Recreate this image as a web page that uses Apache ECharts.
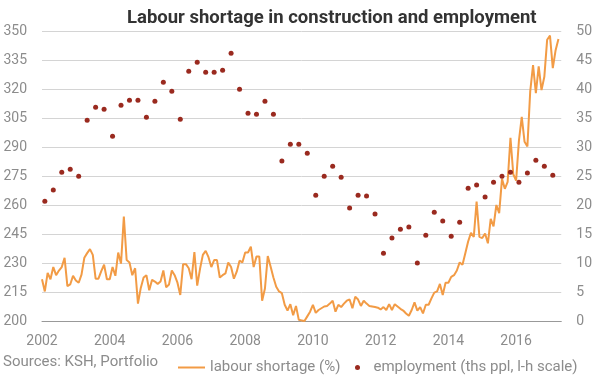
<!DOCTYPE html>
<html>
<head>
<meta charset="utf-8">
<script src="https://cdn.jsdelivr.net/npm/echarts@6/dist/echarts.min.js"></script>
<style>
  html, body { margin: 0; padding: 0; background: #fff; }
  #chart { width: 595px; height: 376px; }
</style>
</head>
<body>
<div id="chart"></div>
<script>
// labour shortage in construction, %, monthly from Jan 2002 (r-h scale)
var shortage = [
  7.2, 5.1, 8.3, 7.2, 9.3, 7.9, 8.7, 9.3, 10.9, 6.0, 6.3, 7.8,
  7.0, 6.6, 8.0, 10.9, 11.7, 12.4, 11.4, 7.3, 7.3, 8.6, 9.7, 7.2,
  7.2, 9.3, 7.8, 11.8, 9.9, 18.0, 10.5, 10.1, 7.9, 9.1, 3.0, 5.7,
  7.5, 7.9, 5.3, 7.1, 6.8, 6.4, 6.8, 8.7, 5.8, 6.3, 8.7, 7.9,
  6.6, 4.5, 9.8, 9.8, 9.1, 7.2, 11.9, 6.1, 9.0, 11.4, 12.1, 11.0,
  9.3, 10.5, 10.5, 7.5, 7.9, 8.2, 10.1, 9.3, 7.3, 8.5, 10.4, 10.1,
  11.8, 11.8, 12.8, 9.3, 11.1, 11.1, 3.5, 5.6, 11.2, 9.4, 7.5, 5.9,
  5.1, 4.8, 2.8, 1.8, 2.9, 1.0, 2.6, 0.2, 0.1, 0.0, 0.8, 1.6,
  2.8, 1.4, 1.9, 2.2, 2.5, 2.6, 3.0, 3.5, 1.6, 2.8, 2.4, 3.0,
  3.5, 3.7, 2.2, 4.2, 3.7, 2.6, 3.5, 3.0, 2.6, 2.5, 2.4, 2.3,
  2.0, 2.4, 1.9, 2.9, 1.9, 2.9, 2.5, 2.1, 1.8, 1.3, 0.9, 1.9,
  3.2, 1.8, 2.4, 1.3, 2.8, 2.8, 3.9, 4.9, 5.1, 6.4, 4.5, 6.6,
  6.6, 7.6, 7.9, 8.7, 10.1, 9.7, 11.7, 13.7, 15.2, 14.5, 20.6, 14.5,
  14.3, 15.1, 13.4, 17.6, 16.3, 20.0, 18.6, 24.5, 22.8, 24.0, 31.6, 25.3,
  24.2, 31.1, 35.2, 30.9, 30.1, 39.6, 44.1, 39.3, 43.9, 39.8, 42.1, 48.5,
  49.2, 43.6, 46.7, 48.6
];

// employment in construction, ths people, quarterly from 2002 Q1 (l-h scale)
var employment = [
  262.0, 267.7, 277.0, 278.5, 274.9, 303.8, 310.6, 309.5, 295.6, 311.6,
  314.2, 314.2, 305.4, 313.7, 323.5, 318.8, 304.4, 329.2, 333.8, 328.6,
  328.6, 329.7, 338.5, 319.9, 307.5, 306.9, 313.7, 306.9, 282.7, 291.4,
  291.4, 286.8, 265.1, 274.9, 280.1, 274.4, 258.4, 265.1, 264.6, 255.3,
  235.1, 242.9, 247.5, 248.6, 230.0, 244.4, 256.3, 251.7, 243.9, 251.1,
  268.7, 270.3, 264.1, 271.8, 274.9, 277.0, 271.8, 276.5, 283.2, 280.1, 275.4
];

var startYear = 2002;
var yearTicks = [2002, 2004, 2006, 2008, 2010, 2012, 2014, 2016];

var lineName = 'labour shortage (%)';
var dotName = 'employment (ths ppl, l-h scale)';

// x as decimal year: monthly points at month start, quarterly at mid-quarter month
var shortageData = shortage.map(function (v, i) {
  return [startYear + i / 12, v];
});
var employmentData = employment.map(function (v, i) {
  return [startYear + (3 * i + 1) / 12, v];
});

var labelColor = '#8c8c8c';
var font = 'Roboto, "Noto Sans", sans-serif';

var chart = echarts.init(document.getElementById('chart'), null, { renderer: 'canvas' });

var option = {
  animation: false,
  backgroundColor: '#fff',
  title: {
    text: 'Labour shortage in construction and employment',
    left: 122,
    top: 4,
    textStyle: { fontFamily: font, fontSize: 18.5, fontWeight: 'bold', color: '#333' }
  },
  grid: { left: 42, right: 33, top: 31, bottom: 55 },
  legend: [
    {
      data: [{ name: lineName, icon: 'rect' }],
      left: 173,
      top: 355,
      itemWidth: 27,
      itemHeight: 2,
      textStyle: { fontFamily: font, fontSize: 15, color: labelColor }
    },
    {
      data: [{ name: dotName, icon: 'circle' }],
      left: 350,
      top: 355,
      itemWidth: 22,
      itemHeight: 5,
      textStyle: { fontFamily: font, fontSize: 15, color: labelColor }
    }
  ],
  graphic: [
    {
      type: 'text',
      left: 3,
      top: 355,
      style: { text: 'Sources: KSH, Portfolio', font: '15px ' + font, fill: labelColor }
    }
  ],
  xAxis: {
    type: 'value',
    min: startYear,
    max: startYear + shortage.length / 12,
    interval: 2,
    axisLine: { show: true, lineStyle: { color: '#999', width: 1 } },
    axisTick: { show: false },
    splitLine: { show: false },
    axisLabel: {
      margin: 13,
      fontFamily: font,
      fontSize: 14,
      color: labelColor,
      showMaxLabel: false,
      formatter: function (v) {
        return yearTicks.indexOf(v) >= 0 ? String(v) : '';
      }
    }
  },
  yAxis: [
    {
      type: 'value',
      min: 200,
      max: 350,
      interval: 15,
      axisLine: { show: false },
      axisTick: { show: false },
      splitLine: { lineStyle: { color: '#d4d4d4', width: 1 } },
      axisLabel: { margin: 15, fontFamily: font, fontSize: 14, color: labelColor }
    },
    {
      type: 'value',
      min: 0,
      max: 50,
      interval: 5,
      position: 'right',
      axisLine: { show: false },
      axisTick: { show: false },
      splitLine: { show: false },
      axisLabel: { margin: 15, fontFamily: font, fontSize: 14, color: labelColor }
    }
  ],
  series: [
    {
      name: lineName,
      type: 'line',
      yAxisIndex: 1,
      data: shortageData,
      showSymbol: false,
      symbol: 'none',
      lineStyle: { color: '#f29b45', width: 2 },
      itemStyle: { color: '#f29b45' },
      z: 2
    },
    {
      name: dotName,
      type: 'scatter',
      yAxisIndex: 0,
      data: employmentData,
      symbolSize: 5,
      itemStyle: { color: '#9a2a1f', opacity: 1 },
      z: 3
    }
  ]
};

chart.setOption(option);
</script>
</body>
</html>
